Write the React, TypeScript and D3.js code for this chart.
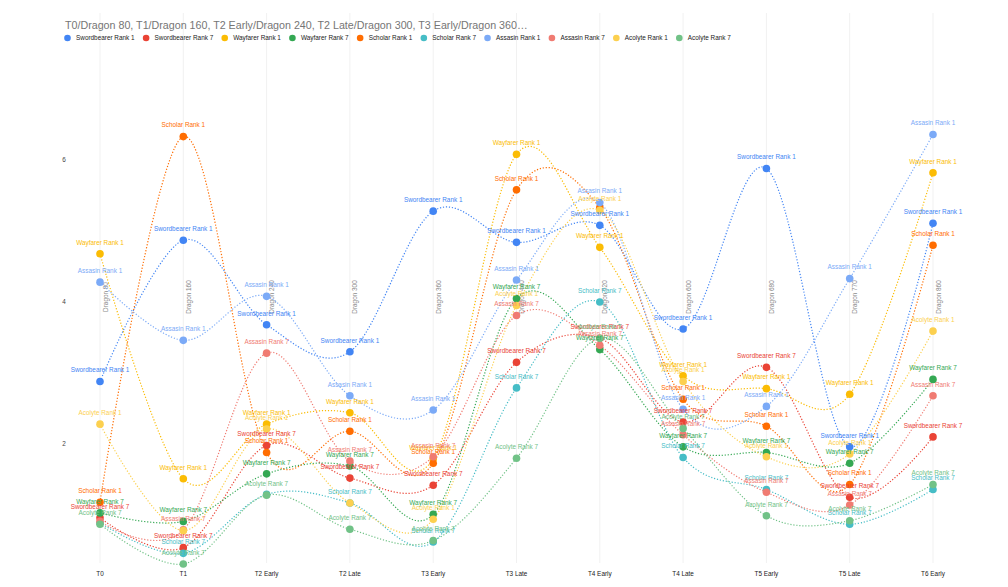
import React, { useMemo } from "react";
import * as d3 from "d3";

const categories = ["T0", "T1", "T2 Early", "T2 Late", "T3 Early", "T3 Late", "T4 Early", "T4 Late", "T5 Early", "T5 Late", "T6 Early"];
const dragonLabels = ["Dragon 80", "Dragon 160", "Dragon 240", "Dragon 300", "Dragon 360", "Dragon 440", "Dragon 520", "Dragon 600", "Dragon 680", "Dragon 770", "Dragon 860"];
const yTicks = [2, 4, 6];

const seriesNames = ["Swordbearer Rank 1", "Swordbearer Rank 7", "Wayfarer Rank 1", "Wayfarer Rank 7", "Scholar Rank 1", "Scholar Rank 7", "Assasin Rank 1", "Assasin Rank 7", "Acolyte Rank 1", "Acolyte Rank 7"];
const seriesColors = ["#4285F4", "#EA4335", "#FBBC04", "#34A853", "#FF6D01", "#46BDC6", "#7BAAF7", "#F07B72", "#FCD04F", "#71C287"];

const swordbearer1 = [2.87, 4.86, 3.67, 3.29, 5.27, 4.83, 5.07, 3.61, 5.87, 1.95, 5.10];
const swordbearer7 = [0.95, 0.53, 1.97, 1.51, 1.41, 3.14, 3.48, 2.30, 3.07, 1.24, 2.09];
const wayfarer1 = [4.67, 1.50, 2.27, 2.43, 1.78, 6.07, 4.76, 2.95, 2.77, 2.69, 5.81];
const wayfarer7 = [1.02, 0.90, 1.57, 1.68, 1.00, 4.04, 3.32, 1.95, 1.87, 1.72, 2.90];
const scholar1 = [1.17, 6.32, 1.87, 2.17, 1.72, 5.57, 5.32, 2.62, 2.24, 1.42, 4.79];
const scholar7 = [0.88, 0.45, 1.28, 1.16, 0.61, 2.78, 3.99, 1.80, 1.35, 0.86, 1.35];
const assasin1 = [4.27, 3.45, 4.07, 2.67, 2.47, 4.30, 5.39, 2.48, 2.52, 4.32, 6.35];
const assasin7 = [0.90, 0.78, 3.27, 1.75, 1.81, 3.80, 3.38, 2.12, 1.31, 1.13, 2.67];
const acolyte1 = [2.27, 0.77, 2.20, 1.16, 0.93, 3.94, 5.28, 2.87, 1.81, 1.85, 3.58];
const acolyte7 = [0.86, 0.30, 1.27, 0.79, 0.63, 1.79, 3.48, 2.21, 0.98, 0.91, 1.42];

const seriesValues = [swordbearer1, swordbearer7, wayfarer1, wayfarer7, scholar1, scholar7, assasin1, assasin7, acolyte1, acolyte7];

// annotations the reference chart leaves out (overlapped): [series index, category index]
const hiddenLabels = [[5, 0], [7, 0], [8, 1], [5, 2], [8, 3], [4, 6]];

const titleText = "T0/Dragon 80, T1/Dragon 160, T2 Early/Dragon 240, T2 Late/Dragon 300, T3 Early/Dragon 360…";

const FONT = "'Liberation Sans', Arial, sans-serif";
const SMALL = 6.4;

export default function App() {
  const W = 1008, H = 587;
  const x = d3.scalePoint<string>().domain(categories).range([100, 933]);
  const y = d3.scaleLinear().domain([0, 6]).range([585.3, 159.3]);
  const line = d3
    .line<number>()
    .x((_, i) => x(categories[i]) as number)
    .y((v) => y(v))
    .curve(d3.curveCardinal.tension(0));

  const legendPos = useMemo(() => {
    const ctx = document.createElement("canvas").getContext("2d")!;
    ctx.font = `${SMALL}px 'Liberation Sans'`;
    let cx = 67.5;
    return seriesNames.map((n) => {
      const p = cx;
      cx += 8.5 + ctx.measureText(n).width + 11.5;
      return p;
    });
  }, []);

  const isHidden = (i: number, j: number) => hiddenLabels.some(([a, b]) => a === i && b === j);

  return (
    <svg width={W} height={H} style={{ position: "absolute", left: 0, top: 0, background: "#fff" }} fontFamily={FONT}>
      <rect width={W} height={H} fill="#fff" />
      {categories.map((c) => (
        <line key={c} x1={x(c)} x2={x(c)} y1={13} y2={563} stroke="#f1f1f1" strokeWidth={1} />
      ))}
      <text x={65} y={29} fontSize={10.7} fill="#757575">{titleText}</text>
      {seriesNames.map((n, i) => (
        <g key={n}>
          <circle cx={legendPos[i]} cy={38} r={3.3} fill={seriesColors[i]} />
          <text x={legendPos[i] + 8.5} y={40.3} fontSize={SMALL} fill="#222">{n}</text>
        </g>
      ))}
      {yTicks.map((t) => (
        <text key={t} x={64} y={y(t) + 2.3} fontSize={SMALL} fill="#444" textAnchor="middle">{t}</text>
      ))}
      {categories.map((c) => (
        <text key={c} x={x(c)} y={576} fontSize={SMALL} fill="#222" textAnchor="middle">{c}</text>
      ))}
      {categories.map((c, i) => (
        <text
          key={"d" + c}
          transform={`translate(${(x(c) as number) + 7.5},297) rotate(-90)`}
          fontSize={SMALL}
          fill="#8a8a8a"
          textAnchor="middle"
        >
          {dragonLabels[i]}
        </text>
      ))}
      {seriesValues.map((vals, i) => (
        <path
          key={"l" + i}
          d={line(vals) || ""}
          fill="none"
          stroke={seriesColors[i]}
          strokeWidth={1.2}
          strokeDasharray="1.2,1.8"
        />
      ))}
      {seriesValues.map((vals, i) =>
        vals.map((v, j) => (
          <circle key={"p" + i + "-" + j} cx={x(categories[j])} cy={y(v)} r={3.8} fill={seriesColors[i]} />
        ))
      )}
      {seriesValues.map((vals, i) =>
        vals.map((v, j) =>
          isHidden(i, j) ? null : (
            <text
              key={"t" + i + "-" + j}
              x={x(categories[j])}
              y={y(v) - 9.2}
              fontSize={SMALL}
              fill={seriesColors[i]}
              textAnchor="middle"
            >
              {seriesNames[i]}
            </text>
          )
        )
      )}
    </svg>
  );
}
